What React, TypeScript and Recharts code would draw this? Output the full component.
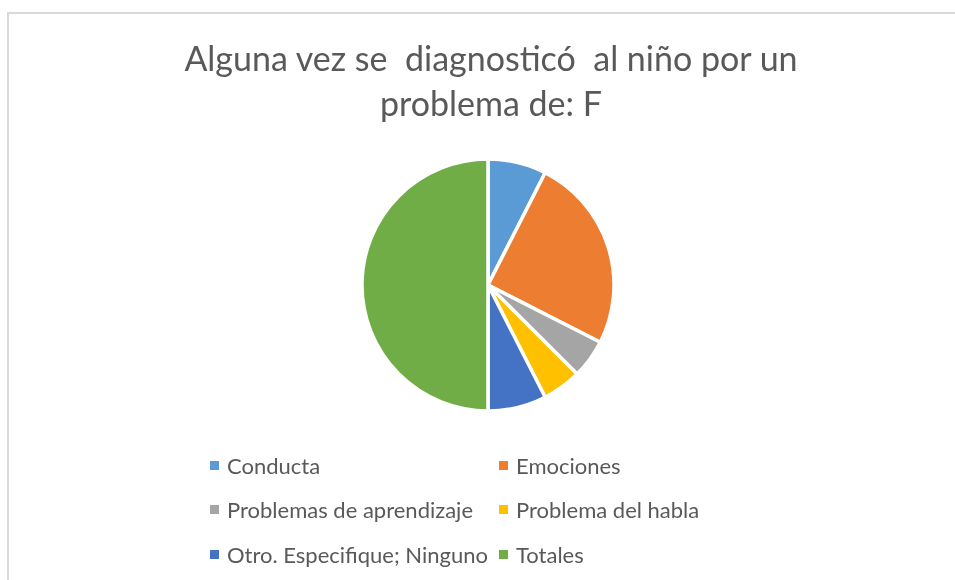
import { PieChart, Pie, Cell, Legend } from "recharts";

const categories = [
  "Conducta",
  "Emociones",
  "Problemas de aprendizaje",
  "Problema del habla",
  "Otro. Especifique; Ninguno",
  "Totales",
];
const counts = [3, 10, 2, 2, 3, 20];
const colors = ["#5B9BD5", "#ED7D31", "#A5A5A5", "#FFC000", "#4472C4", "#70AD47"];

const titleLines = ["Alguna vez se  diagnosticó  al niño por un", "problema de: F"];

const data = categories.map((name, i) => ({ name, value: counts[i] }));

const FONT = "Lato, 'Open Sans', sans-serif";

function renderLegend(props: any) {
  const given: any[] = props.payload || [];
  // keep the legend in the data order, two items per row
  const payload = categories.map((c, i) => {
    const hit = given.find((p) => p.value === c);
    return { value: c, color: hit ? hit.color : colors[i] };
  });
  return (
    <div style={{ position: "relative", width: 955, height: 580 }}>
      {payload.map((entry, i) => {
        const col = i % 2;
        const row = Math.floor(i / 2);
        return (
          <div
            key={entry.value}
            style={{
              position: "absolute",
              left: col === 0 ? 210 : 499,
              top: 451 + row * 44.5,
              height: 28,
              display: "flex",
              alignItems: "center",
              fontFamily: FONT,
              fontSize: 22,
              color: "#595959",
              whiteSpace: "nowrap",
            }}
          >
            <span style={{ display: "inline-block", width: 9, height: 9, background: entry.color, marginRight: 8 }} />
            {entry.value}
          </div>
        );
      })}
    </div>
  );
}

export default function App() {
  return (
    <div>
      <div
        style={{
          position: "fixed",
          left: 7,
          top: 12,
          width: 1000,
          height: 700,
          borderLeft: "2px solid #d9d9d9",
          borderTop: "2px solid #d9d9d9",
          boxSizing: "border-box",
        }}
      />
      <div
        style={{
          position: "fixed",
          left: 10,
          top: 35,
          width: 962,
          textAlign: "center",
          fontFamily: FONT,
          fontSize: 34,
          lineHeight: "45px",
          color: "#595959",
          whiteSpace: "pre",
        }}
      >
        {titleLines.map((l) => (
          <div key={l}>{l}</div>
        ))}
      </div>
      <div style={{ position: "fixed", left: 0, top: 0 }}>
        <PieChart width={955} height={580} margin={{ top: 0, right: 0, bottom: 0, left: 0 }}>
          <Pie
            data={data}
            dataKey="value"
            nameKey="name"
            cx={488}
            cy={285}
            outerRadius={126}
            startAngle={90}
            endAngle={-270}
            stroke="#ffffff"
            strokeWidth={3.5}
            isAnimationActive={false}
          >
            {data.map((d, i) => (
              <Cell key={d.name} fill={colors[i]} />
            ))}
          </Pie>
          <Legend
            content={renderLegend}
            wrapperStyle={{ position: "absolute", left: 0, top: 0, width: 955, height: 580, pointerEvents: "none" }}
          />
        </PieChart>
      </div>
    </div>
  );
}
